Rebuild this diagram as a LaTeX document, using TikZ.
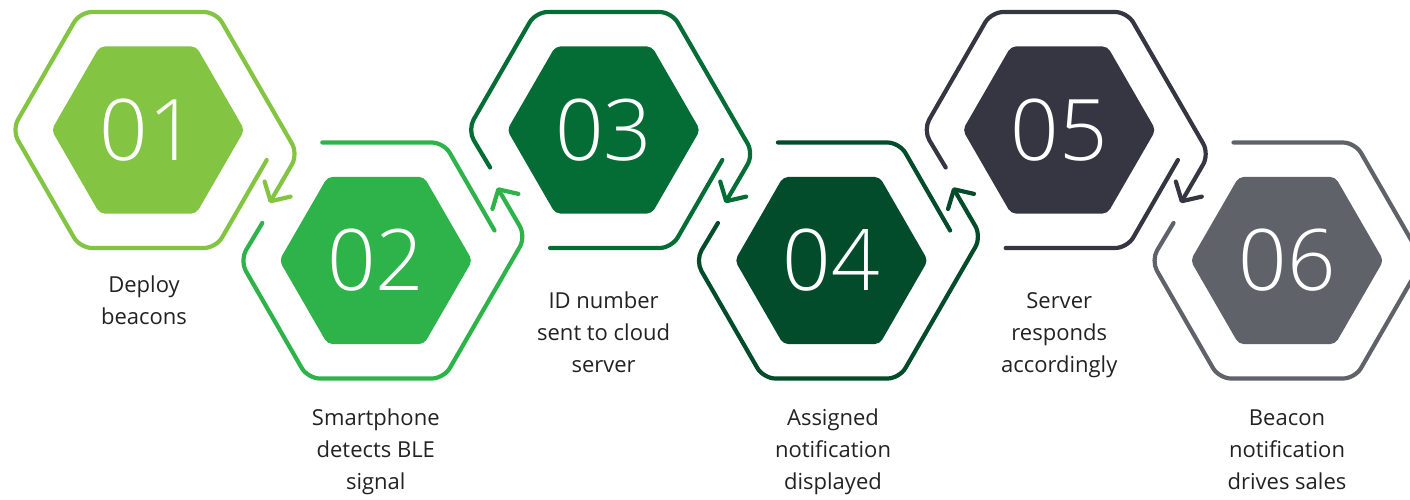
\documentclass[tikz,border=0pt]{standalone}
\usepackage{fontspec}
\setmainfont{Open Sans}
\IfFontExistsTF{Open Sans Light}{\newfontfamily\numfont{Open Sans Light}}{\newfontfamily\numfont{Open Sans}}
\usetikzlibrary{shapes.geometric,arrows.meta}
\definecolor{cA}{HTML}{83C442}
\definecolor{cB}{HTML}{2EB34B}
\definecolor{cC}{HTML}{046C35}
\definecolor{cD}{HTML}{024B2B}
\definecolor{cE}{HTML}{353642}
\definecolor{cF}{HTML}{5F6369}
\definecolor{txt}{HTML}{222222}
\begin{document}
\begin{tikzpicture}[x=1pt,y=-1pt,
  ring/.style={line width=4.2pt, rounded corners=12pt, line cap=round, line join=round},
  arr/.style={-{Straight Barb[length=14pt,width=30pt,round]}},
  hexin/.style={regular polygon, regular polygon sides=6, minimum size=193pt, inner sep=0pt,
    rounded corners=5pt, text=white, font=\numfont\fontsize{85}{85}\selectfont},
  lbl/.style={align=center, text=txt, font=\fontsize{22}{32}\selectfont}]
\useasboundingbox (0,0) rectangle (1410,499);
\clip (0,0) rectangle (1410,499);

% inner hexagons
\node[hexin, fill=cA] (h1) at (148,130) {01};
\node[hexin, fill=cB] (h2) at (375.8,260.5) {02};
\node[hexin, fill=cC] (h3) at (603.6,130) {03};
\node[hexin, fill=cD] (h4) at (831.4,260.5) {04};
\node[hexin, fill=cE] (h5) at (1059.2,130) {05};
\node[hexin, fill=cF] (h6) at (1287,260.5) {06};

% outer rings
\begin{scope}[shift={(h1.center)}]
\draw[ring,arr,cA] (118.7,30) -- (68,118) -- (-68,118) -- (-136,0) -- (-68,-118) -- (68,-118) -- (150,24) -- (121.5,73);
\end{scope}
\begin{scope}[shift={(h2.center)}]
\draw[ring,arr,cB] (-113.5,-37.5) -- (-136,0) -- (-68,118) -- (68,118) -- (150,-24) -- (121.5,-73);
\draw[ring,cB] (-53.5,-118) -- (68,-118) -- (118.7,-30);
\end{scope}
\begin{scope}[shift={(h3.center)}]
\draw[ring,arr,cC] (-113.5,37.5) -- (-136,0) -- (-68,-118) -- (68,-118) -- (150,24) -- (121.5,73);
\draw[ring,cC] (-53.5,118) -- (68,118) -- (118.7,30);
\end{scope}
\begin{scope}[shift={(h4.center)}]
\draw[ring,arr,cD] (-113.5,-37.5) -- (-136,0) -- (-68,118) -- (68,118) -- (150,-24) -- (121.5,-73);
\draw[ring,cD] (-53.5,-118) -- (68,-118) -- (118.7,-30);
\end{scope}
\begin{scope}[shift={(h5.center)}]
\draw[ring,arr,cE] (-113.5,37.5) -- (-136,0) -- (-68,-118) -- (68,-118) -- (150,24) -- (121.5,73);
\draw[ring,cE] (-53.5,118) -- (68,118) -- (118.7,30);
\end{scope}
\begin{scope}[shift={(h6.center)}]
\draw[ring,cF] (-53.5,-118) -- (68,-118) -- (136,0) -- (68,118) -- (-68,118) -- (-136,0) -- (-113.5,-37.5);
\end{scope}

% labels
\node[lbl] (t1) at (144,302.5) {\strut Deploy\\\strut beacons};
\node[lbl] (t2) at (375.8,451.5) {\strut Smartphone\\\strut detects BLE\\\strut signal};
\node[lbl] (t3) at (603.6,334) {\strut ID number\\\strut sent to cloud\\\strut server};
\node[lbl] (t4) at (833,451.5) {\strut Assigned\\\strut notification\\\strut displayed};
\node[lbl] (t5) at (1059.2,334) {\strut Server\\\strut responds\\\strut accordingly};
\node[lbl] (t6) at (1287,451.5) {\strut Beacon\\\strut notification\\\strut drives sales};
\end{tikzpicture}
\end{document}
